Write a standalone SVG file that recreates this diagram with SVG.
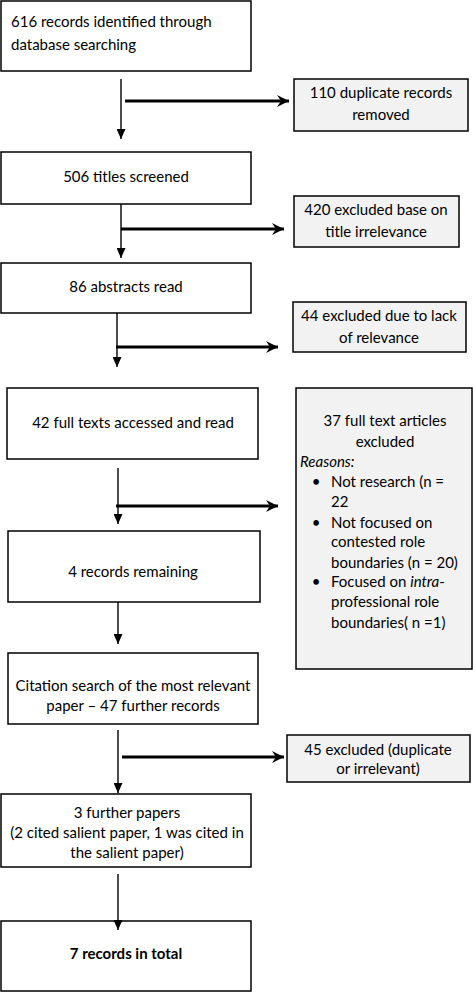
<svg xmlns="http://www.w3.org/2000/svg" width="473" height="992" viewBox="0 0 473 992">
<defs>
<style>
.box{fill:#fff;stroke:#000;stroke-width:1.5}
.side{fill:#f2f2f2;stroke:#000;stroke-width:1.5}
text{font-family:Lato,"Open Sans","Liberation Sans",sans-serif;font-size:15px;fill:#000}
.c{text-anchor:middle}
.v{stroke:#000;stroke-width:1.4;fill:none}
.h{stroke:#000;stroke-width:3;fill:none}
</style>
<marker id="vh" markerUnits="userSpaceOnUse" markerWidth="10" markerHeight="9" refX="10" refY="4.5" orient="auto" viewBox="0 0 10 9">
<path d="M0,0 L10,4.5 L0,9 z" fill="#000"/>
</marker>
<marker id="hh" markerUnits="userSpaceOnUse" markerWidth="12" markerHeight="12" refX="12" refY="6" orient="auto" viewBox="0 0 12 12">
<path d="M0,0 L12,6 L0,12 L4,6 z" fill="#000"/>
</marker>
</defs>
<g id="n1"><rect class="box" x="1" y="1" width="250" height="70"/>
<text x="11" y="27">616 records identified through</text>
<text x="11" y="50">database searching</text></g>
<g id="s1"><rect class="side" x="294" y="79" width="174" height="52"/>
<text class="c" x="381" y="98">110 duplicate records</text>
<text class="c" x="381" y="120">removed</text></g>
<g id="n2"><rect class="box" x="1" y="152" width="250" height="52"/>
<text class="c" x="126" y="182">506 titles screened</text></g>
<g id="s2"><rect class="side" x="294" y="196" width="165" height="51"/>
<text class="c" x="376" y="215">420 excluded base on</text>
<text class="c" x="376" y="237">title irrelevance</text></g>
<g id="n3"><rect class="box" x="1" y="263" width="250" height="50"/>
<text class="c" x="126" y="292">86 abstracts read</text></g>
<g id="s3"><rect class="side" x="293" y="302" width="173" height="50"/>
<text class="c" x="379" y="321">44 excluded due to lack</text>
<text class="c" x="379" y="343">of relevance</text></g>
<g id="n4"><rect class="box" x="7" y="388" width="251" height="71"/>
<text class="c" x="133" y="428">42 full texts accessed and read</text></g>
<g id="s4"><rect class="side" x="296" y="388" width="176" height="281"/>
<text class="c" x="385" y="426">37 full text articles</text>
<text class="c" x="385" y="447">excluded</text>
<text x="300" y="467" font-style="italic">Reasons:</text>
<text x="316" y="487" class="c">•</text><text x="331" y="487">Not research (n =</text>
<text x="331" y="507">22</text>
<text x="316" y="528" class="c">•</text><text x="331" y="528">Not focused on</text>
<text x="331" y="547">contested role</text>
<text x="331" y="568">boundaries (n = 20)</text>
<text x="316" y="587" class="c">•</text><text x="331" y="587">Focused on <tspan font-style="italic">intra</tspan>-</text>
<text x="331" y="607">professional role</text>
<text x="331" y="628">boundaries( n =1)</text></g>
<g id="n5"><rect class="box" x="8" y="531" width="252" height="71"/>
<text class="c" x="133" y="577">4 records remaining</text></g>
<g id="n6"><rect class="box" x="8" y="653" width="250" height="71"/>
<text class="c" x="133" y="691">Citation search of the most relevant</text>
<text class="c" x="133" y="711">paper – 47 further records</text></g>
<g id="s5"><rect class="side" x="287" y="735" width="183" height="47"/>
<text class="c" x="378" y="755">45 excluded (duplicate</text>
<text class="c" x="378" y="774">or irrelevant)</text></g>
<g id="n7"><rect class="box" x="1" y="794" width="250" height="73"/>
<text class="c" x="127" y="818">3 further papers</text>
<text class="c" x="127" y="838">(2 cited salient paper, 1 was cited in</text>
<text class="c" x="127" y="858">the salient paper)</text></g>
<g id="n8"><rect class="box" x="1" y="921" width="250" height="70"/>
<text class="c" x="126" y="959" font-weight="bold">7 records in total</text></g>
<g id="connectors">
<line class="v" x1="121" y1="79" x2="121" y2="139" marker-end="url(#vh)"/>
<line class="h" x1="125" y1="101" x2="289" y2="101" marker-end="url(#hh)"/>
<line class="v" x1="121" y1="204" x2="121" y2="258" marker-end="url(#vh)"/>
<line class="h" x1="121" y1="229" x2="284" y2="229" marker-end="url(#hh)"/>
<line class="v" x1="117" y1="313" x2="117" y2="367" marker-end="url(#vh)"/>
<line class="h" x1="116" y1="347" x2="278" y2="347" marker-end="url(#hh)"/>
<line class="v" x1="118" y1="468" x2="118" y2="524" marker-end="url(#vh)"/>
<line class="h" x1="116" y1="506" x2="278" y2="506" marker-end="url(#hh)"/>
<line class="v" x1="118" y1="602" x2="118" y2="644" marker-end="url(#vh)"/>
<line class="v" x1="118" y1="730" x2="118" y2="793" marker-end="url(#vh)"/>
<line class="h" x1="122" y1="757" x2="284" y2="757" marker-end="url(#hh)"/>
<line class="v" x1="118" y1="874" x2="118" y2="930" marker-end="url(#vh)"/>
</g>
</svg>
